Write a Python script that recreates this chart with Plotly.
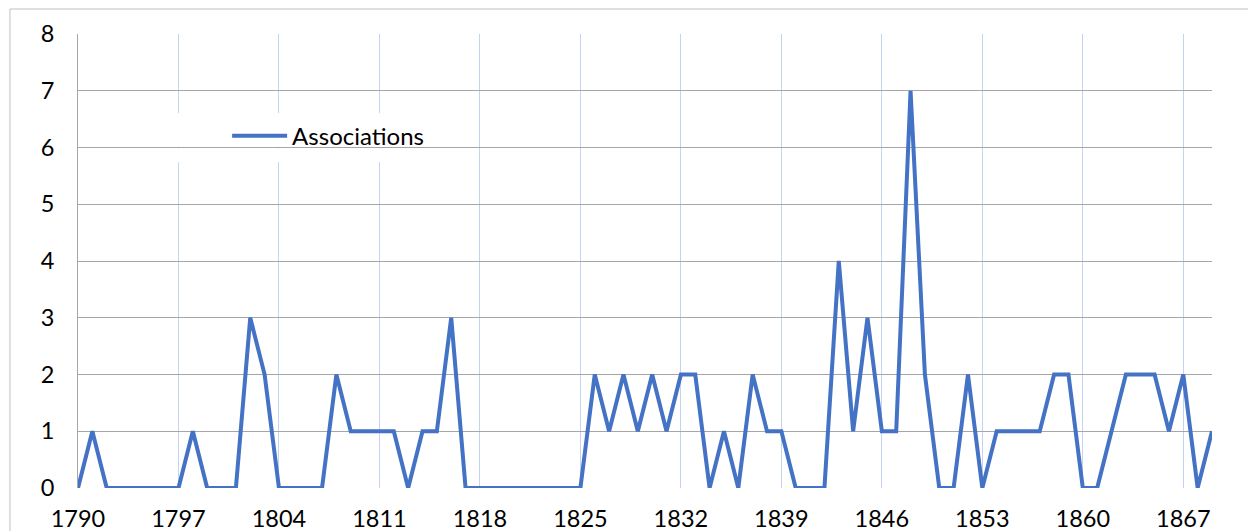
import plotly.graph_objects as go

years = list(range(1790, 1870))
associations = [
    0, 1, 0, 0, 0, 0, 0, 0, 1, 0,   # 1790-1799
    0, 0, 3, 2, 0, 0, 0, 0, 2, 1,   # 1800-1809
    1, 1, 1, 0, 1, 1, 3, 0, 0, 0,   # 1810-1819
    0, 0, 0, 0, 0, 0, 2, 1, 2, 1,   # 1820-1829
    2, 1, 2, 2, 0, 1, 0, 2, 1, 1,   # 1830-1839
    0, 0, 0, 4, 1, 3, 1, 1, 7, 2,   # 1840-1849
    0, 0, 2, 0, 1, 1, 1, 1, 2, 2,   # 1850-1859
    0, 0, 1, 2, 2, 2, 1, 2, 0, 1,   # 1860-1869
]
series_name = "Associations"
x_tick0 = 1790
x_dtick = 7

FONT = "Lato, Carlito, Calibri, sans-serif"
GRID_H = "#a6a6a6"
GRID_V = "#c5d3f3"
LINE = "#4472C4"

fig = go.Figure()
fig.add_trace(go.Scatter(
    x=years, y=associations, mode="lines", name=series_name,
    line=dict(color=LINE, width=4),
))

# page body has an 8px margin; size the figure so that it fills the window
fig.update_layout(
    width=1248, height=523,
    margin=dict(l=70, r=44, t=26, b=43, autoexpand=False),
    paper_bgcolor="white", plot_bgcolor="white",
    font=dict(family=FONT, size=23.5, color="#000000"),
    showlegend=True,
    legend=dict(
        x=0.1315, y=0.775, xanchor="left", yanchor="middle",
        bgcolor="rgba(0,0,0,0)", font=dict(size=24, color="#000000"),
        itemwidth=55,
    ),
    xaxis=dict(
        range=[1790, 1869], tick0=x_tick0, dtick=x_dtick, tickmode="linear",
        showgrid=True, gridcolor=GRID_V, gridwidth=1,
        showline=False, zeroline=False, ticks="",
        ticklabelstandoff=14, automargin=False,
    ),
    yaxis=dict(
        range=[0, 8], dtick=1, tick0=0,
        showgrid=True, gridcolor=GRID_H, gridwidth=1,
        showline=True, linecolor=GRID_H, linewidth=1,
        zeroline=False, ticks="", ticklabelstandoff=18, automargin=False,
    ),
    shapes=[
        # legend box hides the vertical gridlines behind it (gap left for the y=6 gridline)
        dict(type="rect", xref="x", yref="y", x0=1795.5, x1=1814.5, y0=5.74, y1=5.985,
             fillcolor="white", line=dict(width=0), layer="between"),
        dict(type="rect", xref="x", yref="y", x0=1795.5, x1=1814.5, y0=6.015, y1=6.61,
             fillcolor="white", line=dict(width=0), layer="between"),
        # outer chart border (top and left)
        dict(type="line", xref="paper", yref="paper", x0=-0.06, x1=1.2, y0=1.055, y1=1.055,
             line=dict(color="#bfbfbf", width=1), layer="below"),
        dict(type="line", xref="paper", yref="paper", x0=-0.06, x1=-0.06, y0=1.055, y1=-0.3,
             line=dict(color="#bfbfbf", width=1), layer="below"),
    ],
)

fig.write_html("out.html")
